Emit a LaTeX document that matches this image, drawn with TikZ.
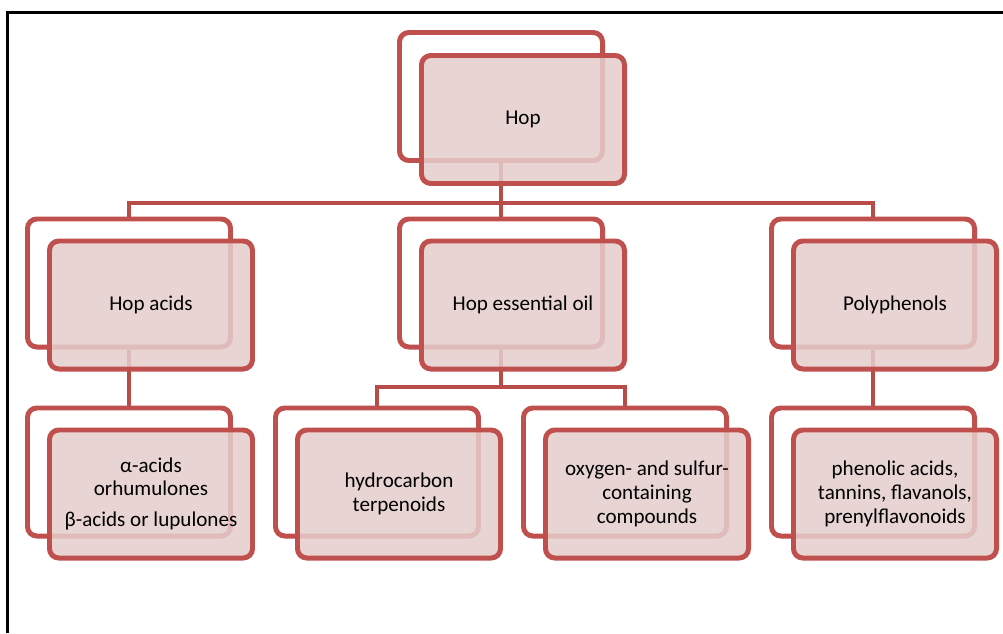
\documentclass[tikz,border=0pt]{standalone}
\usepackage{fontspec}
\setmainfont{Carlito}
\usetikzlibrary{positioning}

\definecolor{boxred}{HTML}{C0504D}
\definecolor{linkred}{HTML}{B84C49}
\definecolor{boxfill}{HTML}{E5CDCD}

\tikzset{
	backbox/.style={draw=boxred, line width=4.25pt, rounded corners=8pt, minimum width=6.09cm, minimum height=3.84cm},
	hopbox/.style={backbox, fill=boxfill, fill opacity=0.86, text opacity=1, text=black, align=center, font=\fontsize{18}{20.4}\selectfont},
	link/.style={draw=linkred, line width=3.4pt}
}

\begin{document}
\begin{tikzpicture}[x=0.03cm, y=-0.03cm]
	\useasboundingbox (0,0) rectangle (1003,633);
	\draw[line width=2.6pt] (7.5,633) -- (7.5,12.5) -- (1003,12.5);

	% back boxes
	\node[backbox] (1s) at (501,96.5) {};
	\node[backbox] (2s) at (129,283) {};
	\node[backbox] (3s) at (501,283) {};
	\node[backbox] (4s) at (873,283) {};
	\node[backbox] (5s) at (129,472) {};
	\node[backbox] (6s) at (377,472) {};
	\node[backbox] (7s) at (625,472) {};
	\node[backbox] (8s) at (873,472) {};

	% connectors
	\coordinate (j1) at (501,203);
	\coordinate (j2) at (501,387);
	\draw[link] (1s.south) -- (j1) -| (2s.north);
	\draw[link] (j1) -| (3s.north);
	\draw[link] (j1) -| (4s.north);
	\draw[link] (2s.south) -- (5s.north);
	\draw[link] (3s.south) -- (j2) -| (6s.north);
	\draw[link] (j2) -| (7s.north);
	\draw[link] (4s.south) -- (8s.north);

	% front boxes
	\node[hopbox] (1) at (523,119.5) {Hop};
	\node[hopbox] (2) at (151,305) {Hop acids};
	\node[hopbox] (3) at (523,305) {Hop essential oil};
	\node[hopbox] (4) at (895,305) {Polyphenols};
	\node[hopbox] (5) at (151,494) {α-acids\\orhumulones\\[6pt]β-acids or lupulones};
	\node[hopbox] (6) at (399,494) {hydrocarbon\\terpenoids};
	\node[hopbox] (7) at (647,494) {oxygen- and sulfur-\\containing\\compounds};
	\node[hopbox] (8) at (895,494) {phenolic acids,\\tannins, flavanols,\\prenylflavonoids};
\end{tikzpicture}
\end{document}
